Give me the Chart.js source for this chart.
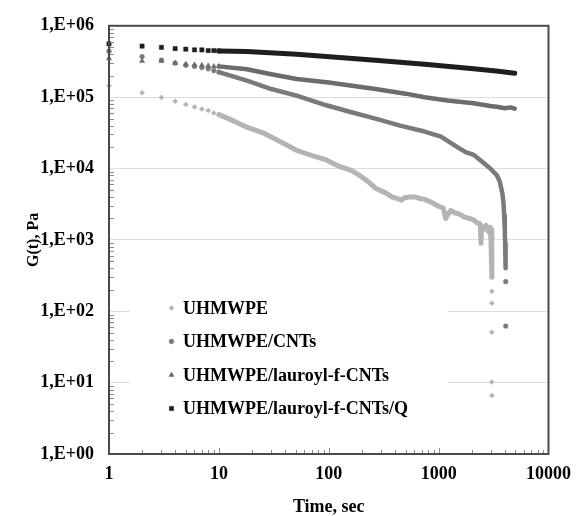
<!DOCTYPE html>
<html><head><meta charset="utf-8">
<script src="https://cdn.jsdelivr.net/npm/chart.js@4/dist/chart.umd.min.js"></script>
<style>html,body{margin:0;padding:0;background:#fff;}</style>
</head><body>
<canvas id="c" width="581" height="516" style="width:581px;height:516px;display:block"></canvas>
<script>
const seriesNames = ['UHMWPE','UHMWPE/CNTs','UHMWPE/lauroyl-f-CNTs','UHMWPE/lauroyl-f-CNTs/Q'];
const xTicks = [1,10,100,1000,10000];
const xTickLabels = ['1','10','100','1000','10000'];
const yTicks = [1,10,100,1000,1e4,1e5,1e6];
const yTickLabels = ['1,E+00','1,E+01','1,E+02','1,E+03','1,E+04','1,E+05','1,E+06'];

// UHMWPE
const uhmDotT = [1,2,3,4,5,6,7,8,9,10,3050,3050,3050,3050,3050];
const uhmDotG = [1.45e5,1.15e5,9.9e4,8.8e4,7.9e4,7.3e4,6.8e4,6.5e4,6.0e4,5.7e4,190,130,51,10.2,6.6];
const uhmLineT = [10,13,18,26,36,51,60,72,95,125,160,189,230,266,327,375,420,461,490,540,605,680,745,850,980,1100,1160,1220,1290,1400,1550,1700,1900,2100,2220,2350,2400,2430,2460,2560,2700,2850,2950,3000,3050,3050];
const uhmLineG = [5.7e4,4.8e4,3.8e4,3.1e4,2.4e4,1.8e4,1.65e4,1.5e4,1.32e4,1.07e4,9.4e3,8.1e3,6.5e3,5.3e3,4.6e3,4.0e3,3.8e3,3.6e3,3.9e3,4.0e3,4.0e3,3.8e3,3.7e3,3.4e3,3.0e3,2.8e3,2.0e3,2.3e3,2.6e3,2.4e3,2.3e3,2.1e3,2.0e3,1.9e3,1.75e3,1.7e3,1.6e3,9.0e2,1.5e3,1.4e3,1.6e3,1.3e3,1.5e3,9.0e2,1.4e3,3.0e2];

// UHMWPE/CNTs
const cntDotT = [1,2,3,4,5,6,7,8,9,10,4080,4080];
const cntDotG = [4.4e5,3.7e5,3.3e5,3.0e5,2.8e5,2.7e5,2.6e5,2.5e5,2.35e5,2.25e5,260,62];
const cntLineT = [10,18,30,51,95,158,266,446,745,1050,1480,1760,2090,2480,2950,3380,3600,3800,3900,3950,4000,4030,4060,4080];
const cntLineG = [2.25e5,1.7e5,1.3e5,1.05e5,7.7e4,6.2e4,5.0e4,4.0e4,3.3e4,2.8e4,2.0e4,1.7e4,1.55e4,1.25e4,1.0e4,8.1e3,6.6e3,4.5e3,3.2e3,2.2e3,1.4e3,900,600,400];

// UHMWPE/lauroyl-f-CNTs
const lauDotT = [1,2,3,4,5,6,7,8,9,10];
const lauDotG = [3.5e5,3.2e5,3.2e5,3.0e5,2.9e5,2.85e5,2.8e5,2.75e5,2.7e5,2.7e5];
const lauLineT = [10,18,30,51,100,266,500,745,1200,2090,2950,3500,4000,4500,4930];
const lauLineG = [2.7e5,2.46e5,2.1e5,1.8e5,1.6e5,1.3e5,1.12e5,1.0e5,9.0e4,8.2e4,7.5e4,7.3e4,7.0e4,7.2e4,6.9e4];

// UHMWPE/lauroyl-f-CNTs/Q
const qDotT = [1,2,3,4,5,6,7,8,9,10];
const qDotG = [5.6e5,5.2e5,5.0e5,4.8e5,4.7e5,4.6e5,4.6e5,4.5e5,4.5e5,4.45e5];
const qLineT = [10,18,51,95,266,745,2090,3500,4930];
const qLineG = [4.45e5,4.35e5,4.0e5,3.7e5,3.3e5,2.9e5,2.5e5,2.3e5,2.17e5];

const mk = (ts, gs) => ts.map((t, i) => ({x: t, y: gs[i]}));
const FONT = 'Liberation Serif, Times New Roman, serif';

const looks = [
  {color:'#b4b4b4', style:'rectRot', r:2.5, w:5},
  {color:'#7a7a7a', style:'circle', r:2.4, w:4.5},
  {color:'#6c6c6c', style:'triangle', r:3.0, w:4.5},
  {color:'#1e1e1e', style:'rect', r:3.0, w:5}
];
const seriesData = [
  [uhmDotT, uhmDotG, uhmLineT, uhmLineG],
  [cntDotT, cntDotG, cntLineT, cntLineG],
  [lauDotT, lauDotG, lauLineT, lauLineG],
  [qDotT, qDotG, qLineT, qLineG]
];

const datasets = [];
for (let i = 3; i >= 0; i--) {
  const [dt, dg, lt, lg] = seriesData[i];
  const L = looks[i];
  datasets.push({label: seriesNames[i], data: mk(lt, lg), showLine: true, pointRadius: 0,
    borderColor: L.color, borderWidth: L.w, borderCapStyle: 'round', borderJoinStyle: 'round', fill: false, tension: 0});
  datasets.push({label: seriesNames[i], data: mk(dt, dg), showLine: false, pointRadius: L.r,
    pointStyle: L.style, backgroundColor: L.color, borderColor: L.color, borderWidth: 0.5, clip: 8});
}

const decor = {
  id: 'decor',
  afterDraw(chart) {
    const {ctx, chartArea: a, scales: {x, y}} = chart;
    ctx.save();
    ctx.strokeStyle = '#8a8a8a';
    ctx.lineWidth = 1;
    ctx.beginPath();
    for (let k = 0; k < 4; k++) {
      for (let m = 1; m <= 9; m++) {
        if (m === 1 && k === 0) continue;
        const v = m * Math.pow(10, k);
        const px = Math.round(x.getPixelForValue(v)) + 0.5;
        const len = m === 1 ? 6 : 4;
        ctx.moveTo(px, a.bottom); ctx.lineTo(px, a.bottom - len);
      }
    }
    for (let k = 0; k < 6; k++) {
      for (let m = 2; m <= 9; m++) {
        const v = m * Math.pow(10, k);
        const py = Math.round(y.getPixelForValue(v)) + 0.5;
        ctx.moveTo(a.left, py); ctx.lineTo(a.left + 5, py);
      }
    }
    ctx.stroke();
    ctx.strokeStyle = '#4a4a4a';
    ctx.lineWidth = 2;
    ctx.strokeRect(a.left, a.top, a.right - a.left, a.bottom - a.top);
    ctx.fillStyle = '#fff';
    ctx.fillRect(a.left + 21, a.top + 264, 318, 148);
    const rows = [308, 341.5, 375, 408.5];
    ctx.font = 'bold 18px ' + FONT;
    ctx.textBaseline = 'middle';
    ctx.textAlign = 'left';
    for (let i = 0; i < 4; i++) {
      const L = looks[i];
      ctx.fillStyle = L.color; ctx.strokeStyle = L.color; ctx.lineWidth = 0.5;
      Chart.helpers.drawPoint(ctx, {pointStyle: L.style, radius: L.r, rotation: 0, borderWidth: 0.5}, a.left + 62.5, rows[i]);
      ctx.fillStyle = '#000';
      ctx.fillText(seriesNames[i], a.left + 74, rows[i] + 1);
    }
    ctx.restore();
  }
};

new Chart(document.getElementById('c'), {
  type: 'scatter',
  data: {datasets},
  plugins: [decor],
  options: {
    responsive: false, animation: false, devicePixelRatio: 1,
    layout: {padding: {left: 26, right: 25, top: 21, bottom: 0}},
    plugins: {legend: {display: false}, tooltip: {enabled: false}},
    scales: {
      x: {
        type: 'logarithmic', min: 1, max: 10000,
        afterBuildTicks: s => { s.ticks = xTicks.map(v => ({value: v})); },
        afterFit: s => { s.height = 62; },
        ticks: {callback: v => xTickLabels[xTicks.indexOf(v)], autoSkip: false, maxRotation: 0,
          font: {family: FONT, weight: 'bold', size: 18}, color: '#000', padding: 10},
        grid: {display: false, drawTicks: false},
        border: {display: false},
        title: {display: true, text: 'Time, sec', color: '#000', padding: 0,
          font: {family: FONT, weight: 'bold', size: 18, lineHeight: 1}}
      },
      y: {
        type: 'logarithmic', min: 1, max: 1e6,
        afterBuildTicks: s => { s.ticks = yTicks.map(v => ({value: v})); },
        afterFit: s => { s.width = 83; },
        ticks: {callback: v => yTickLabels[yTicks.indexOf(v)], autoSkip: false,
          font: {family: FONT, weight: 'bold', size: 18}, color: '#000', padding: 15},
        grid: {color: '#dedede', lineWidth: 1, drawTicks: false},
        border: {display: false},
        title: {display: true, text: 'G(t), Pa', color: '#000', padding: 0,
          font: {family: FONT, weight: 'bold', size: 16, lineHeight: 1}}
      }
    }
  }
});
</script>
</body></html>
